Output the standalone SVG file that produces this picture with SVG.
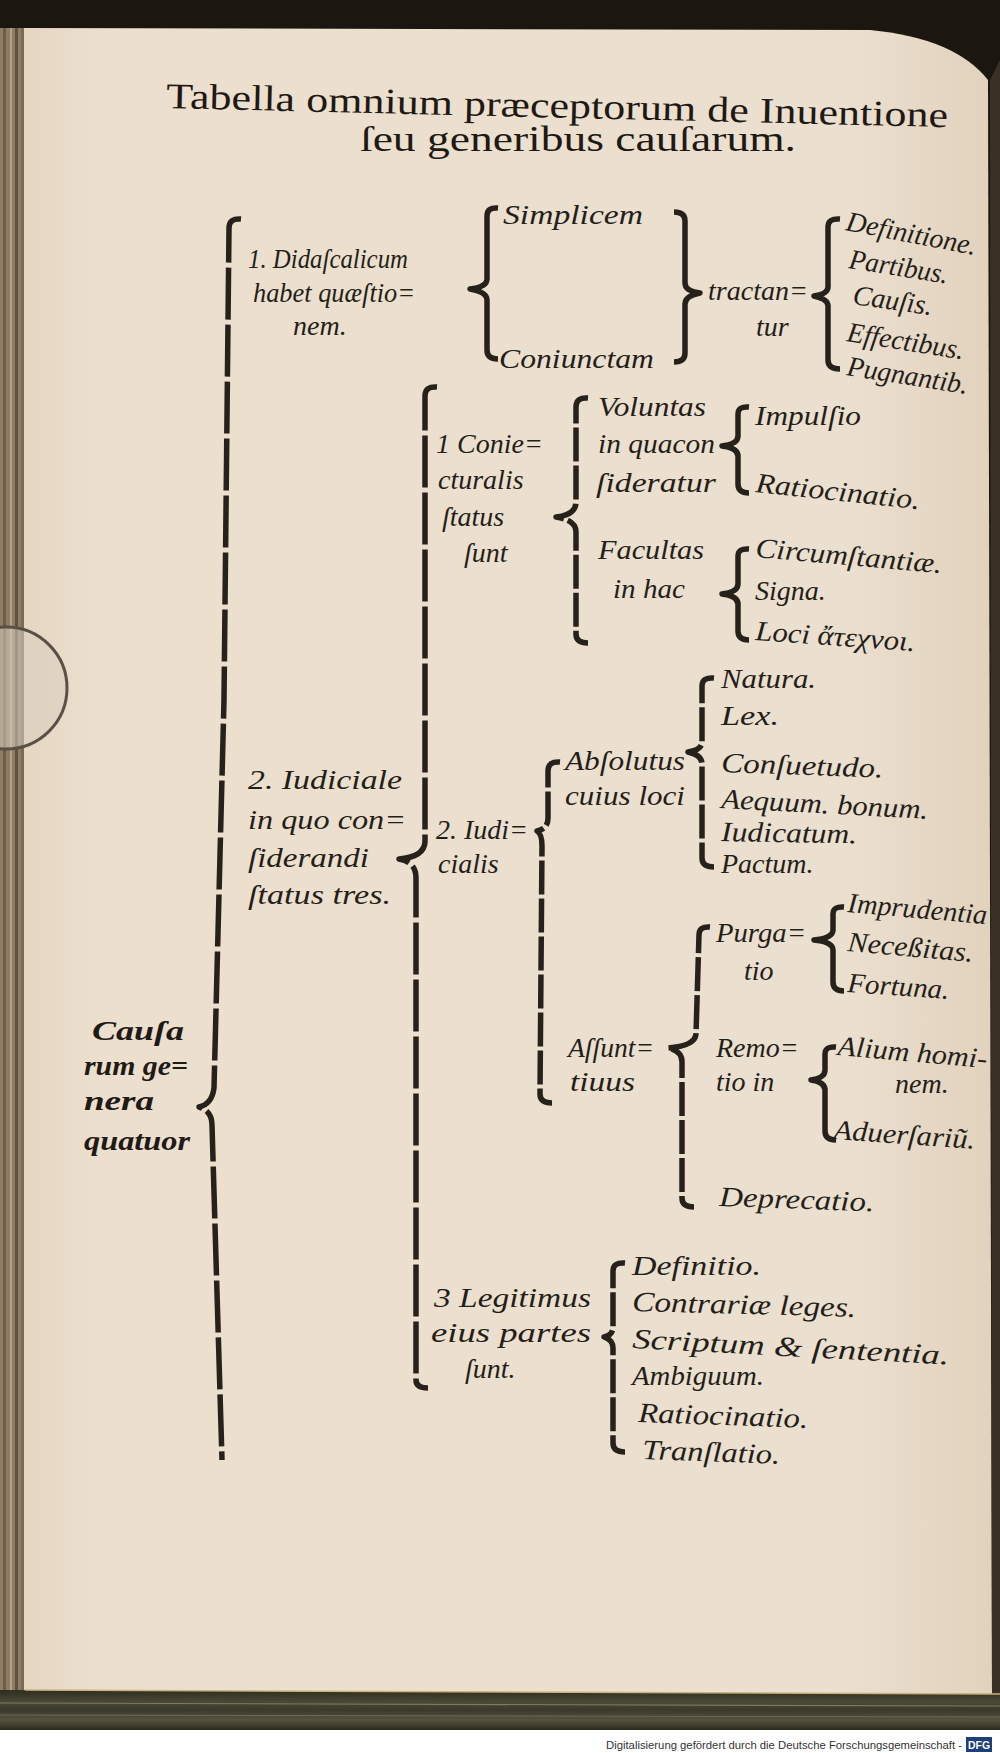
<svg xmlns="http://www.w3.org/2000/svg" width="1000" height="1753" viewBox="0 0 1000 1753">
<defs>
<linearGradient id="paperG" x1="0" y1="0" x2="1" y2="0">
<stop offset="0" stop-color="#e6d6c2"/>
<stop offset="0.08" stop-color="#ecdfce"/>
<stop offset="0.85" stop-color="#ebdfcf"/>
<stop offset="1" stop-color="#e2d2bd"/>
</linearGradient>
<linearGradient id="bandG" x1="0" y1="0" x2="0" y2="1">
<stop offset="0" stop-color="#2f2c20"/>
<stop offset="0.3" stop-color="#4a4936"/>
<stop offset="0.5" stop-color="#3a392b"/>
<stop offset="0.75" stop-color="#55533f"/>
<stop offset="1" stop-color="#2c2a1f"/>
</linearGradient>
</defs>
<style>
.i{font-family:"Liberation Serif","DejaVu Serif",serif;font-style:italic;font-size:28px;fill:#241e19}
.b{font-family:"Liberation Serif","DejaVu Serif",serif;font-style:italic;font-weight:bold;font-size:28px;fill:#1f1a16}
.ti{font-family:"Liberation Serif","DejaVu Serif",serif;font-size:36px;fill:#1f1914}
.br{fill:none;stroke:#27211c;stroke-width:5.5;stroke-linecap:butt;stroke-linejoin:round}
.dl{stroke-dasharray:52 5}
.ds{stroke-dasharray:34 4}
</style>

<g id="page">
<rect x="0" y="0" width="1000" height="1753" fill="#1c1611"/>
<path d="M 22 28 L 870 30 Q 955 38 988 80 L 992 1700 L 22 1700 Z" fill="url(#paperG)"/>
<rect x="0" y="28" width="24" height="1680" fill="#8d7d63"/>
<rect x="3" y="28" width="3" height="1680" fill="#6b5d48"/>
<rect x="10" y="28" width="2" height="1680" fill="#b3a283"/>
<rect x="15" y="28" width="3" height="1680" fill="#5f5340"/>
<rect x="21" y="28" width="3" height="1680" fill="#7a6b54"/>
<path d="M 990 80 L 1000 60 L 1000 1720 L 992 1700 Z" fill="#3a3026"/>
<circle cx="6" cy="688" r="61" fill="#d9cebf" fill-opacity="0.55" stroke="#5a5047" stroke-width="3"/>
<path d="M 0 1690 L 1000 1694 L 1000 1730 L 0 1730 Z" fill="url(#bandG)"/>
<path d="M 25 1690 L 1000 1694" stroke="#c9b27e" stroke-width="1.5"/>
<path d="M 0 1703 L 1000 1706" stroke="#7d7a5e" stroke-width="1.2"/>
<path d="M 0 1715 L 1000 1717" stroke="#6e6b52" stroke-width="1"/>
<rect x="0" y="1730" width="1000" height="23" fill="#ffffff"/>
<text x="606" y="1749" textLength="356" lengthAdjust="spacingAndGlyphs" font-family="Liberation Sans, Arial, sans-serif" font-size="11" fill="#333">Digitalisierung gefördert durch die Deutsche Forschungsgemeinschaft -</text>
<rect x="966" y="1737" width="26" height="15" fill="#1d3f7a"/>
<text x="968" y="1749" textLength="22" lengthAdjust="spacingAndGlyphs" font-family="Liberation Sans, Arial, sans-serif" font-size="11" font-weight="bold" fill="#ffffff">DFG</text>
</g>

<g id="title">
<text class="ti" x="166" y="108" textLength="782" lengthAdjust="spacingAndGlyphs" transform="rotate(1.4 166 108)">Tabella omnium præceptorum de Inuentione</text>
<text class="ti" x="360" y="151" textLength="436" lengthAdjust="spacingAndGlyphs">ſeu generibus cauſarum.</text>
</g>

<g id="connectors">
<path class="br dl" d="M 241 219 Q 229 218 229 228 L 224 700 L 214 1088 Q 212 1104 199 1107 Q 212 1111 212 1125 L 222 1460"/>
<path class="br dl" d="M 437 387 Q 425 386 425 396 L 425 842 Q 424 857 399 859 Q 416 862 416 878 L 416 1380 Q 416 1388 428 1388"/>
<path class="br ds" d="M 588 398 Q 576 397 576 407 L 576 502 Q 576 515 556 517 Q 576 520 576 532 L 576 634 Q 576 643 588 643"/>
<path class="br" d="M 749 407 Q 738 406 738 414 L 738 436 Q 738 444 722 446 Q 738 448 738 456 L 738 484 Q 738 493 749 493"/>
<path class="br" d="M 749 549 Q 738 548 738 556 L 738 584 Q 738 592 722 594 Q 738 596 738 604 L 738 631 Q 738 640 749 640"/>
<path class="br ds" d="M 560 762 Q 548 761 548 771 L 548 818 Q 548 829 537 831 Q 542 834 542 846 L 540 1094 Q 540 1103 552 1103"/>
<path class="br ds" d="M 714 678 Q 702 677 702 686 L 702 742 Q 702 750 688 752 Q 702 755 702 764 L 702 858 Q 702 867 714 867"/>
<path class="br ds" d="M 710 927 Q 699 926 699 935 L 696 1034 Q 695 1046 668 1048 Q 682 1051 682 1062 L 682 1198 Q 682 1207 694 1207"/>
<path class="br" d="M 844 907 Q 833 906 833 914 L 833 930 Q 833 938 814 940 Q 833 942 833 950 L 833 982 Q 833 991 844 991"/>
<path class="br" d="M 836 1047 Q 825 1046 825 1054 L 825 1070 Q 825 1078 811 1080 Q 825 1082 825 1090 L 825 1131 Q 825 1140 836 1140"/>
<path class="br ds" d="M 625 1263 Q 613 1262 613 1271 L 613 1327 Q 613 1335 604 1337 Q 613 1340 613 1348 L 613 1443 Q 613 1452 625 1452"/>
<path class="br" d="M 498 208 Q 487 207 487 216 L 487 279 Q 487 287 470 289 Q 487 292 487 300 L 487 350 Q 487 359 498 359"/>
<path class="br" d="M 674 212 Q 685 212 685 221 L 685 283 Q 685 291 700 293 Q 685 296 685 304 L 685 353 Q 685 362 674 362"/>
<path class="br" d="M 840 219 Q 828 218 828 227 L 828 287 Q 828 294 814 296 Q 828 299 828 306 L 828 360 Q 828 369 840 369"/>
</g>

<g id="n-causarum">
<text class="b" x="92" y="1040" textLength="92" lengthAdjust="spacingAndGlyphs">Cauſa</text>
<text class="b" x="84" y="1075" textLength="104" lengthAdjust="spacingAndGlyphs">rum ge=</text>
<text class="b" x="84" y="1110" textLength="70" lengthAdjust="spacingAndGlyphs">nera</text>
<text class="b" x="84" y="1150" textLength="106" lengthAdjust="spacingAndGlyphs">quatuor</text>
</g>

<g id="n-didascalicum">
<text class="i" x="248" y="268" textLength="160" lengthAdjust="spacingAndGlyphs">1. Didaſcalicum</text>
<text class="i" x="253" y="302" textLength="162" lengthAdjust="spacingAndGlyphs">habet quæſtio=</text>
<text class="i" x="293" y="335">nem.</text>
</g>
<g id="n-simplicem"><text class="i" x="503" y="224" textLength="140" lengthAdjust="spacingAndGlyphs">Simplicem</text></g>
<g id="n-coniunctam"><text class="i" x="499" y="368" textLength="155" lengthAdjust="spacingAndGlyphs">Coniunctam</text></g>
<g id="n-tractantur">
<text class="i" x="708" y="300" textLength="100" lengthAdjust="spacingAndGlyphs">tractan=</text>
<text class="i" x="756" y="336">tur</text>
</g>
<g id="n-definitione"><text class="i" x="845" y="230" textLength="132" lengthAdjust="spacingAndGlyphs" transform="rotate(11 845 230)">Definitione.</text></g>
<g id="n-partibus"><text class="i" x="848" y="268" textLength="100" lengthAdjust="spacingAndGlyphs" transform="rotate(9 848 268)">Partibus.</text></g>
<g id="n-causis"><text class="i" x="852" y="304" textLength="80" lengthAdjust="spacingAndGlyphs" transform="rotate(8 852 304)">Cauſis.</text></g>
<g id="n-effectibus"><text class="i" x="846" y="341" textLength="118" lengthAdjust="spacingAndGlyphs" transform="rotate(9 846 341)">Effectibus.</text></g>
<g id="n-pugnantib"><text class="i" x="846" y="375" textLength="122" lengthAdjust="spacingAndGlyphs" transform="rotate(9 846 375)">Pugnantib.</text></g>

<g id="n-iudiciale">
<text class="i" x="248" y="789" textLength="154" lengthAdjust="spacingAndGlyphs">2. Iudiciale</text>
<text class="i" x="248" y="829" textLength="158" lengthAdjust="spacingAndGlyphs">in quo con=</text>
<text class="i" x="248" y="867" textLength="121" lengthAdjust="spacingAndGlyphs">ſiderandi</text>
<text class="i" x="248" y="904" textLength="143" lengthAdjust="spacingAndGlyphs">ſtatus tres.</text>
</g>

<g id="n-coniecturalis">
<text class="i" x="436" y="453">1 Conie=</text>
<text class="i" x="438" y="489">cturalis</text>
<text class="i" x="442" y="526">ſtatus</text>
<text class="i" x="464" y="562">ſunt</text>
</g>
<g id="n-voluntas">
<text class="i" x="598" y="416" textLength="108" lengthAdjust="spacingAndGlyphs">Voluntas</text>
<text class="i" x="598" y="453" textLength="117" lengthAdjust="spacingAndGlyphs">in quacon</text>
<text class="i" x="596" y="492" textLength="120" lengthAdjust="spacingAndGlyphs">ſideratur</text>
</g>
<g id="n-impulsio"><text class="i" x="755" y="425" textLength="106" lengthAdjust="spacingAndGlyphs">Impulſio</text></g>
<g id="n-ratiocinatio1"><text class="i" x="755" y="492" textLength="165" lengthAdjust="spacingAndGlyphs" transform="rotate(6 755 492)">Ratiocinatio.</text></g>
<g id="n-facultas">
<text class="i" x="598" y="559" textLength="106" lengthAdjust="spacingAndGlyphs">Facultas</text>
<text class="i" x="613" y="598" textLength="72" lengthAdjust="spacingAndGlyphs">in hac</text>
</g>
<g id="n-circumstantiae"><text class="i" x="755" y="557" textLength="187" lengthAdjust="spacingAndGlyphs" transform="rotate(5 755 557)">Circumſtantiæ.</text></g>
<g id="n-signa"><text class="i" x="755" y="600">Signa.</text></g>
<g id="n-loci"><text class="i" x="755" y="640" textLength="160" lengthAdjust="spacingAndGlyphs" transform="rotate(4 755 640)">Loci ἄτεχνοι.</text></g>

<g id="n-iudicialis">
<text class="i" x="436" y="839" textLength="92" lengthAdjust="spacingAndGlyphs">2. Iudi=</text>
<text class="i" x="438" y="873">cialis</text>
</g>
<g id="n-absolutus">
<text class="i" x="565" y="770" textLength="120" lengthAdjust="spacingAndGlyphs">Abſolutus</text>
<text class="i" x="565" y="805" textLength="120" lengthAdjust="spacingAndGlyphs">cuius loci</text>
</g>
<g id="n-natura"><text class="i" x="721" y="688" textLength="95" lengthAdjust="spacingAndGlyphs">Natura.</text></g>
<g id="n-lex"><text class="i" x="721" y="725" textLength="58" lengthAdjust="spacingAndGlyphs">Lex.</text></g>
<g id="n-consuetudo"><text class="i" x="721" y="772" textLength="162" lengthAdjust="spacingAndGlyphs" transform="rotate(2 721 772)">Conſuetudo.</text></g>
<g id="n-aequum"><text class="i" x="721" y="808" textLength="207" lengthAdjust="spacingAndGlyphs" transform="rotate(3 721 808)">Aequum. bonum.</text></g>
<g id="n-iudicatum"><text class="i" x="721" y="841" textLength="136" lengthAdjust="spacingAndGlyphs" transform="rotate(1 721 841)">Iudicatum.</text></g>
<g id="n-pactum"><text class="i" x="721" y="873">Pactum.</text></g>

<g id="n-assumptiuus">
<text class="i" x="568" y="1057" textLength="86" lengthAdjust="spacingAndGlyphs">Aſſunt=</text>
<text class="i" x="570" y="1091" textLength="65" lengthAdjust="spacingAndGlyphs">tiuus</text>
</g>
<g id="n-purgatio">
<text class="i" x="716" y="942" textLength="90" lengthAdjust="spacingAndGlyphs">Purga=</text>
<text class="i" x="744" y="980">tio</text>
</g>
<g id="n-imprudentia"><text class="i" x="847" y="912" textLength="140" lengthAdjust="spacingAndGlyphs" transform="rotate(5 847 912)">Imprudentia</text></g>
<g id="n-necessitas"><text class="i" x="847" y="951" textLength="126" lengthAdjust="spacingAndGlyphs" transform="rotate(5 847 951)">Neceßitas.</text></g>
<g id="n-fortuna"><text class="i" x="847" y="992" textLength="102" lengthAdjust="spacingAndGlyphs" transform="rotate(4 847 992)">Fortuna.</text></g>
<g id="n-remotio">
<text class="i" x="716" y="1057">Remo=</text>
<text class="i" x="716" y="1091">tio in</text>
</g>
<g id="n-alium">
<text class="i" x="837" y="1055" textLength="150" lengthAdjust="spacingAndGlyphs" transform="rotate(5 837 1055)">Alium homi-</text>
<text class="i" x="895" y="1093">nem.</text>
</g>
<g id="n-aduersarium"><text class="i" x="833" y="1139" textLength="142" lengthAdjust="spacingAndGlyphs" transform="rotate(4 833 1139)">Aduerſariũ.</text></g>
<g id="n-deprecatio"><text class="i" x="719" y="1206" textLength="155" lengthAdjust="spacingAndGlyphs" transform="rotate(2 719 1206)">Deprecatio.</text></g>

<g id="n-legitimus">
<text class="i" x="434" y="1307" textLength="157" lengthAdjust="spacingAndGlyphs">3 Legitimus</text>
<text class="i" x="431" y="1342" textLength="160" lengthAdjust="spacingAndGlyphs">eius partes</text>
<text class="i" x="465" y="1378">ſunt.</text>
</g>
<g id="n-definitio"><text class="i" x="632" y="1275" textLength="129" lengthAdjust="spacingAndGlyphs">Definitio.</text></g>
<g id="n-contrariae"><text class="i" x="632" y="1311" textLength="224" lengthAdjust="spacingAndGlyphs" transform="rotate(1.5 632 1311)">Contrariæ leges.</text></g>
<g id="n-scriptum"><text class="i" x="632" y="1348" textLength="317" lengthAdjust="spacingAndGlyphs" transform="rotate(3 632 1348)">Scriptum &amp; ſententia.</text></g>
<g id="n-ambiguum"><text class="i" x="632" y="1385" textLength="132" lengthAdjust="spacingAndGlyphs">Ambiguum.</text></g>
<g id="n-ratiocinatio2"><text class="i" x="638" y="1422" textLength="170" lengthAdjust="spacingAndGlyphs" transform="rotate(2 638 1422)">Ratiocinatio.</text></g>
<g id="n-translatio"><text class="i" x="642" y="1459" textLength="138" lengthAdjust="spacingAndGlyphs" transform="rotate(2 642 1459)">Tranſlatio.</text></g>
</svg>
